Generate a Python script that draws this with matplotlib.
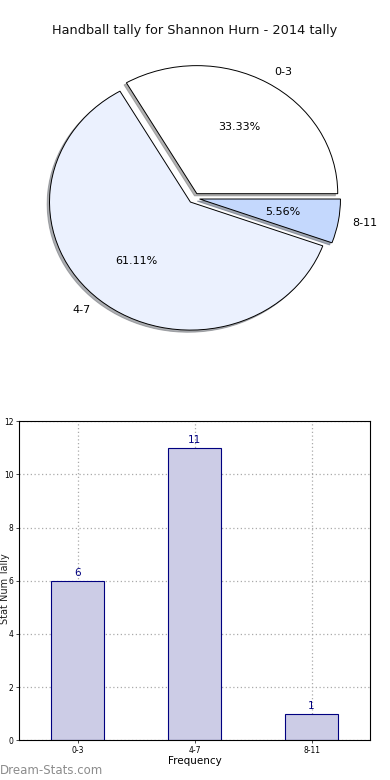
import matplotlib
matplotlib.use("Agg")
import matplotlib.pyplot as plt

categories = ["0-3", "4-7", "8-11"]
counts = [6, 11, 1]
pie_colors = ["#ffffff", "#ebf1fe", "#c4d8fd"]
title = "Handball tally for Shannon Hurn - 2014 tally"

fig = plt.figure(figsize=(3.9, 7.8), dpi=100)

# Pie chart
axp = fig.add_axes([0.064, 0.549, 0.867, 0.394])
wedges, texts, autotexts = axp.pie(
    counts, labels=categories, colors=pie_colors, autopct="%.2f%%",
    explode=[0.04, 0.04, 0.04],
    shadow=dict(ox=-0.012, oy=-0.012, shade=0.5, alpha=0.6),
    startangle=0,
    wedgeprops=dict(edgecolor="black", linewidth=0.7),
    textprops=dict(fontsize=8))
axp.set_aspect("auto")
axp.set_xlim(-1.2, 1.2)
axp.set_ylim(-1.2, 1.2)
fig.text(0.5, 0.961, title, ha="center", va="center", fontsize=9.3, color="#111111")

# Bar chart
axb = fig.add_axes([0.049, 0.051, 0.9, 0.409])
x = list(range(len(categories)))
bars = axb.bar(x, counts, width=0.45, color="#cccce6", edgecolor="#000080", linewidth=0.8, zorder=2)
for xi, c in zip(x, counts):
    axb.text(xi, c + 0.1, str(c), ha="center", va="bottom", color="#000080", fontsize=7.5)
axb.set_xlim(-0.5, 2.5)
axb.set_ylim(0, 12)
axb.set_yticks(range(0, 13, 2))
axb.set_xticks(x)
axb.set_xticklabels(categories)
axb.tick_params(axis="both", labelsize=5.5, length=2, width=0.5, direction="out", pad=2)
axb.grid(True, linestyle=(0, (1, 2)), color="#aaaaaa", linewidth=0.9, zorder=0)
axb.set_axisbelow(True)
axb.set_xlabel("Frequency", fontsize=7.5, labelpad=1)
for s in axb.spines.values():
    s.set_linewidth(0.8)
fig.text(0.0, 0.245, "Stat Num Tally", rotation=90, ha="left", va="center", fontsize=7, color="#222222")

fig.text(0.0, 0.012, "Dream-Stats.com", ha="left", va="center", fontsize=8.5, color="#8c8c8c")

fig.savefig("out.png", dpi=100)
